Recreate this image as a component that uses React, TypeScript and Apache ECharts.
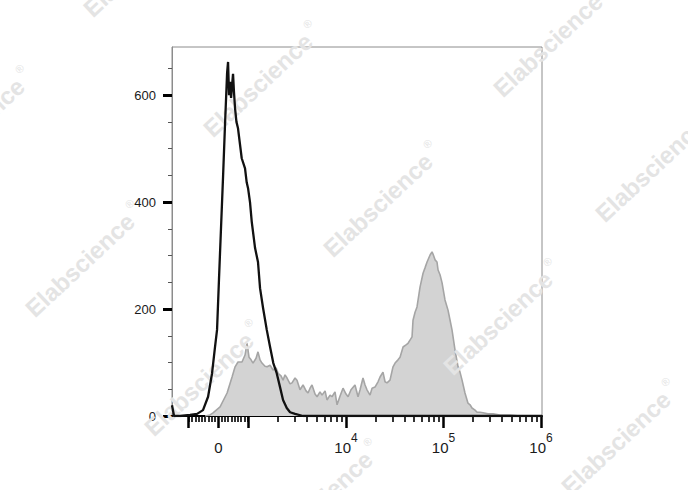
import React, { useEffect, useRef } from "react";
import * as echarts from "echarts";

// ---- Data (x in display channel units: 100 per decade, 10^4 = 400) ----
const unstainedChannel = [
  221.5, 223.6, 229.8, 240.0, 247.2, 253.3, 258.5, 262.6, 265.6, 267.7, 269.7, 271.8, 273.9,
  275.9, 278.0, 279.0, 280.0, 281.0, 282.1, 283.1, 284.1, 285.1, 286.2, 287.6, 289.2, 293.0,
  296.4, 298.1, 299.5, 301.5, 303.3, 306.7, 309.7, 311.8, 314.9, 318.7, 322.1, 325.4, 328.9,
  332.3, 335.4, 339.2, 342.6, 347.7, 355.9, 400, 500, 601,
];
const unstainedCount = [
  20, 0, 0, 2, 4, 11, 36, 80, 129, 161, 256, 353, 449,
  546, 641, 662, 600, 625, 595, 618, 640, 605, 575, 550, 538, 482,
  463, 437, 426, 400, 363, 314, 288, 239, 202, 161, 129, 99, 80,
  54, 30, 15, 7, 4, 0, 0, 0, 0,
];

const stainedChannel = [
  255.4, 260.5, 263.6, 270.8, 278.0, 283.1, 286.2, 289.2, 293.3, 296.4, 298.5, 300.5, 302.6,
  304.6, 307.7, 309.7, 311.8, 313.8, 316.9, 319.0, 322.1, 325.1, 328.2, 330.3, 333.3, 335.4,
  337.4, 339.5, 342.6, 344.6, 347.7, 349.7, 352.8, 355.9, 359.0, 361.0, 363.1, 365.1, 368.2,
  370.3, 373.3, 375.4, 378.5, 380.5, 383.6, 385.6, 388.7, 390.8, 393.8, 396.9, 400.0, 402.1,
  405.1, 409.2, 412.3, 414.4, 417.4, 419.5, 421.5, 424.6, 426.7, 429.7, 432.8, 434.9, 437.9,
  440.0, 442.0, 445.1, 448.2, 450.3, 453.3, 455.4, 458.5, 461.5, 463.6, 465.6, 467.7, 468.7,
  470.8, 472.8, 475.9, 479.0, 481.0, 483.1, 486.2, 488.2, 489.2, 491.3, 493.3, 494.4, 496.4,
  498.5, 501.5, 504.6, 506.7, 508.7, 511.8, 514.9, 516.9, 519.0, 522.0, 525.1, 527.2, 529.2,
  532.3, 534.4, 537.4, 540.5, 545.6, 550.8, 557.9, 568.2, 578.5, 601,
];
const stainedCount = [
  0, 2, 6, 17, 43, 73, 92, 101, 101, 114, 136, 110, 105,
  99, 108, 120, 105, 99, 93, 92, 95, 86, 90, 80, 75, 67,
  77, 71, 60, 62, 71, 67, 49, 58, 47, 43, 52, 58, 41,
  36, 45, 39, 47, 30, 39, 36, 45, 21, 37, 52, 41, 36,
  49, 58, 36, 49, 71, 58, 49, 39, 52, 54, 64, 73, 82,
  64, 62, 67, 92, 99, 105, 110, 129, 133, 136, 142, 148, 179,
  194, 204, 241, 267, 277, 288, 301, 307, 303, 292, 288, 273, 264,
  249, 217, 198, 179, 161, 123, 92, 82, 67, 43, 24, 21, 15,
  11, 7, 7, 6, 4, 4, 2, 2, 0, 0,
];

// ---- Axis ticks ----
const yMajorTicks = [0, 200, 400, 600];
const yMinorTicks = [50, 100, 150, 250, 300, 350, 450, 500, 550, 650];
const yMax = 690;

const xMajorTickValues = [-1000, 0, 1000, 10000, 100000, 1000000];
const xMinorTickValues = [
  -900, -800, -700, -600, -500, -400, -300, -200, -100,
  100, 200, 300, 400, 500, 600, 700, 800, 900,
  2000, 3000, 4000, 5000, 6000, 7000, 8000, 9000,
  20000, 30000, 40000, 50000, 60000, 70000, 80000, 90000,
  200000, 300000, 400000, 500000, 600000, 700000, 800000, 900000,
];
const xLabelValues = [0, 10000, 100000, 1000000];
const xLabelTexts = ["0", "10|4", "10|5", "10|6"];

const watermarkText = "Elabscience";

// display transform (biexponential-like): linear around zero, log above 10^3
const CH_MIN = 221.5;
const CH_MAX = 601;
const LIN_ZERO = 269;
const LIN_SLOPE = 0.0336;
function toChannel(v: number): number {
  if (v >= 1000) return 100 * Math.log10(v);
  if (v <= -1000) return 2 * LIN_ZERO - 100 * Math.log10(-v);
  return LIN_ZERO + v * LIN_SLOPE;
}

const watermarkCenters: [number, number][] = [
  [138, -35], [-30, 130], [258, 85], [378, 205], [498, 323], [548, 45],
  [650, 170], [80, 265], [199, 384], [318, 503], [616, 443],
];

const FONT = "'Liberation Sans', Arial, sans-serif";

export default function App() {
  const ref = useRef<HTMLDivElement>(null);
  useEffect(() => {
    if (!ref.current) return;
    const chart = echarts.init(ref.current, undefined, { renderer: "svg" });
    const labelChannels = xLabelValues.map(toChannel);
    const rot = (43 * Math.PI) / 180;
    const option: any = {
      animation: false,
      backgroundColor: "#ffffff",
      textStyle: { fontFamily: FONT },
      grid: {
        left: 172, top: 47, right: 146, bottom: 74,
        show: true, borderColor: "#8c8c8c", borderWidth: 1, backgroundColor: "transparent",
      },
      xAxis: [
        {
          type: "value", min: CH_MIN, max: CH_MAX, position: "bottom",
          axisLine: { show: true, onZero: false, lineStyle: { color: "#000", width: 2 } },
          splitLine: { show: false },
          axisTick: {
            show: true, length: 12, customValues: xMajorTickValues.map(toChannel),
            lineStyle: { color: "#000", width: 2.5 },
          },
          axisLabel: {
            show: true, margin: 16, customValues: labelChannels,
            formatter: (val: number) => {
              const i = labelChannels.findIndex((c) => Math.abs(c - val) < 0.5);
              if (i < 0) return "";
              const t = xLabelTexts[i];
              if (t.indexOf("|") < 0) return `{base|${t}}`;
              const [b, e] = t.split("|");
              return `{base|${b}}{sup|${e}}`;
            },
            rich: {
              base: { fontSize: 15, color: "#1a1a1a", fontFamily: FONT, verticalAlign: "bottom", lineHeight: 23 },
              sup: { fontSize: 12, color: "#1a1a1a", fontFamily: FONT, verticalAlign: "top", lineHeight: 12 },
            },
          },
        },
        {
          type: "value", min: CH_MIN, max: CH_MAX, position: "bottom", gridIndex: 0,
          axisLine: { show: false, onZero: false },
          splitLine: { show: false },
          axisTick: {
            show: true, length: 6, customValues: xMinorTickValues.map(toChannel),
            lineStyle: { color: "#000", width: 1.6 },
          },
          axisLabel: { show: false },
        },
      ],
      yAxis: [
        {
          type: "value", min: 0, max: yMax, position: "left",
          axisLine: { show: true, lineStyle: { color: "#8c8c8c", width: 1 } },
          splitLine: { show: false },
          axisTick: {
            show: true, length: 9, customValues: yMajorTicks,
            lineStyle: { color: "#000", width: 3 },
          },
          axisLabel: {
            show: true, margin: 16, customValues: yMajorTicks,
            fontSize: 13, color: "#1a1a1a", fontFamily: FONT,
          },
        },
        {
          type: "value", min: 0, max: yMax, position: "left",
          axisLine: { show: false },
          splitLine: { show: false },
          axisTick: {
            show: true, length: 4, customValues: yMinorTicks,
            lineStyle: { color: "#555", width: 1 },
          },
          axisLabel: { show: false },
        },
      ],
      series: [
        {
          name: "stained", type: "line", xAxisIndex: 0, yAxisIndex: 0,
          data: stainedChannel.map((c, i) => [c, stainedCount[i]]),
          symbol: "none", z: 2,
          lineStyle: { color: "#a5a5a5", width: 1.6 },
          areaStyle: { color: "#d3d3d3", opacity: 1 },
        },
        {
          name: "control", type: "line", xAxisIndex: 0, yAxisIndex: 0,
          data: unstainedChannel.map((c, i) => [c, unstainedCount[i]]),
          symbol: "none", z: 6,
          lineStyle: { color: "#111111", width: 2.3 },
        },
      ],
      graphic: watermarkCenters.map(([cx, cy]) => ({
        type: "group", x: cx, y: cy, rotation: rot, z: 4, silent: true,
        children: [
          {
            type: "text", x: 0, y: 0, z: 4,
            style: {
              text: watermarkText, fill: "#e4e4e4", font: `bold 24px ${FONT}`,
              textAlign: "center", textVerticalAlign: "middle",
            },
          },
          {
            type: "text", x: 78, y: -11, z: 4,
            style: {
              text: "®", fill: "#e4e4e4", font: `11px ${FONT}`,
              textAlign: "center", textVerticalAlign: "middle",
            },
          },
        ],
      })),
    };
    chart.setOption(option);
    return () => chart.dispose();
  }, []);
  return (
    <div
      ref={ref}
      style={{ position: "fixed", left: 0, top: 0, width: 688, height: 490, background: "#fff" }}
    />
  );
}
